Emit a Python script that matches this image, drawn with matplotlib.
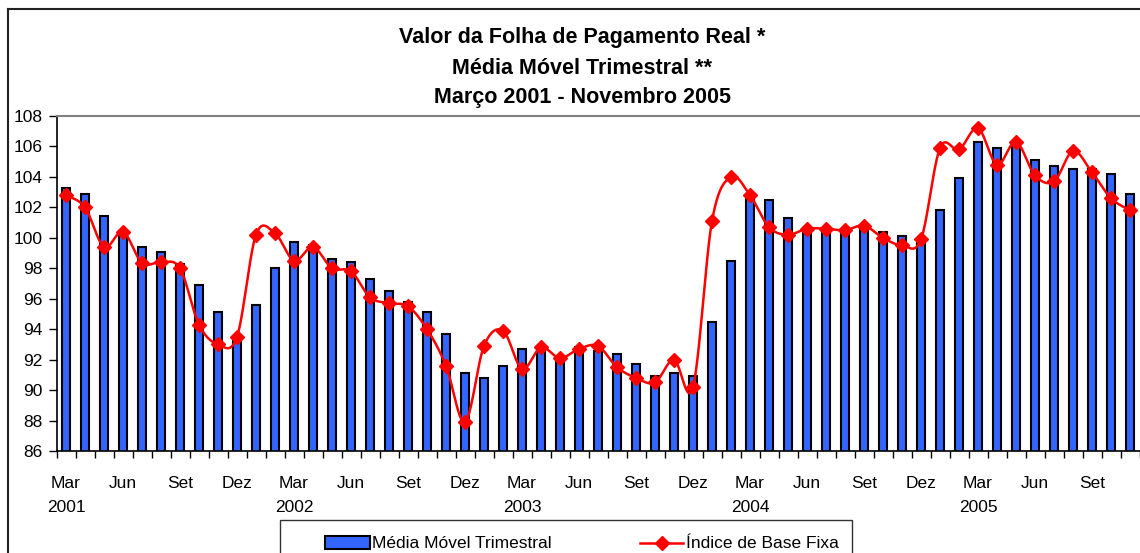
import numpy as np
import matplotlib
matplotlib.use("Agg")
import matplotlib.pyplot as plt
from matplotlib.patches import Rectangle
from matplotlib.lines import Line2D

plt.rcParams['font.family'] = ['Liberation Sans', 'DejaVu Sans']

# ---- data ----
months = ["Mar", "Abr", "Mai", "Jun", "Jul", "Ago", "Set", "Out", "Nov", "Dez", "Jan", "Fev"]
years = ["2001", "2002", "2003", "2004", "2005"]
media_movel = [103.3, 102.9, 101.4, 100.4, 99.4, 99.1, 98.3, 96.9, 95.1, 93.4, 95.6, 98.0,
               99.7, 99.5, 98.6, 98.4, 97.3, 96.5, 95.8, 95.1, 93.7, 91.1, 90.8, 91.6,
               92.7, 92.6, 92.0, 92.8, 92.6, 92.4, 91.7, 90.9, 91.1, 90.9, 94.5, 98.5,
               102.7, 102.5, 101.3, 100.5, 100.5, 100.4, 100.8, 100.4, 100.1, 99.8, 101.8, 103.9,
               106.3, 105.9, 106.2, 105.1, 104.7, 104.5, 104.5, 104.2, 102.9]
base_fixa = [102.8, 102.0, 99.4, 100.4, 98.35, 98.4, 98.0, 94.3, 93.0, 93.5, 100.2, 100.3,
             98.5, 99.4, 98.0, 97.8, 96.1, 95.7, 95.5, 94.0, 91.6, 87.9, 92.9, 93.9,
             91.4, 92.8, 92.1, 92.7, 92.9, 91.5, 90.8, 90.5, 92.0, 90.2, 101.1, 104.0,
             102.8, 100.7, 100.2, 100.6, 100.6, 100.5, 100.8, 100.0, 99.5, 99.9, 105.9, 105.8,
             107.2, 104.8, 106.3, 104.1, 103.7, 105.7, 104.3, 102.6, 101.8]
shown_months = {"Mar", "Jun", "Set", "Dez"}
title_lines = ["Valor da Folha de Pagamento Real *", "Média Móvel Trimestral **",
               "Março 2001 - Novembro 2005"]
legend_labels = ["Média Móvel Trimestral", "Índice de Base Fixa"]

W, H = 1140, 553
fig = plt.figure(figsize=(W / 100, H / 100), dpi=100)

def fx(x):
    return x / W

def fy(y):
    return 1 - y / H

ax = fig.add_axes([fx(56.5), fy(451), fx(1139.5) - fx(56.5), fy(116) - fy(451)])

n = len(media_movel)
x = np.arange(n)
ax.bar(x, media_movel, width=0.45, color='#3366FF', edgecolor='black', linewidth=1.5, zorder=2)

# smoothed line (Bezier smoothing like Excel)
y = np.array(base_fixa)
xs, ys = [], []
for i in range(n - 1):
    p0 = y[i - 1] if i > 0 else y[i]
    p1, p2 = y[i], y[i + 1]
    p3 = y[i + 2] if i + 2 < n else y[i + 1]
    x0 = i - 1 if i > 0 else i
    x3 = i + 2 if i + 2 < n else i + 1
    c1x = i + (i + 1 - x0) / 6
    c1y = p1 + (p2 - p0) / 6
    c2x = i + 1 - (x3 - i) / 6
    c2y = p2 - (p3 - p1) / 6
    t = np.linspace(0, 1, 25)
    bx = (1 - t) ** 3 * i + 3 * (1 - t) ** 2 * t * c1x + 3 * (1 - t) * t ** 2 * c2x + t ** 3 * (i + 1)
    by = (1 - t) ** 3 * p1 + 3 * (1 - t) ** 2 * t * c1y + 3 * (1 - t) * t ** 2 * c2y + t ** 3 * p2
    xs.extend(bx)
    ys.extend(by)
ax.plot(xs, ys, color='#FF0000', linewidth=1.8, zorder=3)
ax.plot(x, y, linestyle='none', marker='D', markersize=6.8, color='#FF0000', zorder=4)

ax.set_xlim(-0.5, n - 0.5)
ax.set_ylim(86, 108)
ax.set_yticks(np.arange(86, 109, 2))
ax.tick_params(axis='y', direction='out', length=6, width=1, pad=4, labelsize=12.5)

# x: ticks at boundaries, labels at category centers
ax.set_xticks(np.arange(-0.5, n, 1))
ax.set_xticklabels([])
ax.tick_params(axis='x', which='major', direction='out', length=5, width=1)
lab_pos, lab_txt = [], []
for i in range(n):
    m = months[i % 12]
    if m in shown_months:
        lab_pos.append(i)
        lab_txt.append(m + ("\n" + years[i // 12] if m == "Mar" else ""))
ax.set_xticks(lab_pos, minor=True)
ax.set_xticklabels(lab_txt, minor=True, fontsize=12.5)
ax.tick_params(axis='x', which='minor', length=0, pad=18)
for t in ax.get_xticklabels(minor=True):
    t.set_linespacing(1.75)

for s in ['left', 'bottom']:
    ax.spines[s].set_color('black')
    ax.spines[s].set_linewidth(1.2)
ax.spines['top'].set_color('#808080')
ax.spines['top'].set_linewidth(1.5)
ax.spines['right'].set_visible(False)

# outer frame
fig.add_artist(Line2D([fx(8), 1], [fy(9), fy(9)], color='#222222', linewidth=1.5))
fig.add_artist(Line2D([fx(8), fx(8)], [fy(9), 0], color='#222222', linewidth=1.5))

# titles
for txt, yy in zip(title_lines, [38, 68, 97]):
    fig.text(fx(582), fy(yy), txt, ha='center', va='center', fontsize=15.5, fontweight='bold')

# legend (manual)
fig.add_artist(Rectangle((fx(280), fy(560)), fx(852) - fx(280), fy(520) - fy(560),
                         facecolor='white', edgecolor='#333333', linewidth=1.0))
fig.add_artist(Rectangle((fx(325), fy(549)), fx(370) - fx(325), fy(536) - fy(549),
                         facecolor='#3366FF', edgecolor='black', linewidth=1.5))
fig.text(fx(372), fy(543), legend_labels[0], ha='left', va='center', fontsize=12.5)
fig.add_artist(Line2D([fx(640), fx(683)], [fy(543), fy(543)], color='#FF0000', linewidth=1.8))
fig.add_artist(Line2D([fx(661.5)], [fy(543)], color='#FF0000', marker='D', markersize=6.8,
                      linestyle='none'))
fig.text(fx(686), fy(543), legend_labels[1], ha='left', va='center', fontsize=12.5)

fig.savefig('out.png', dpi=100)
